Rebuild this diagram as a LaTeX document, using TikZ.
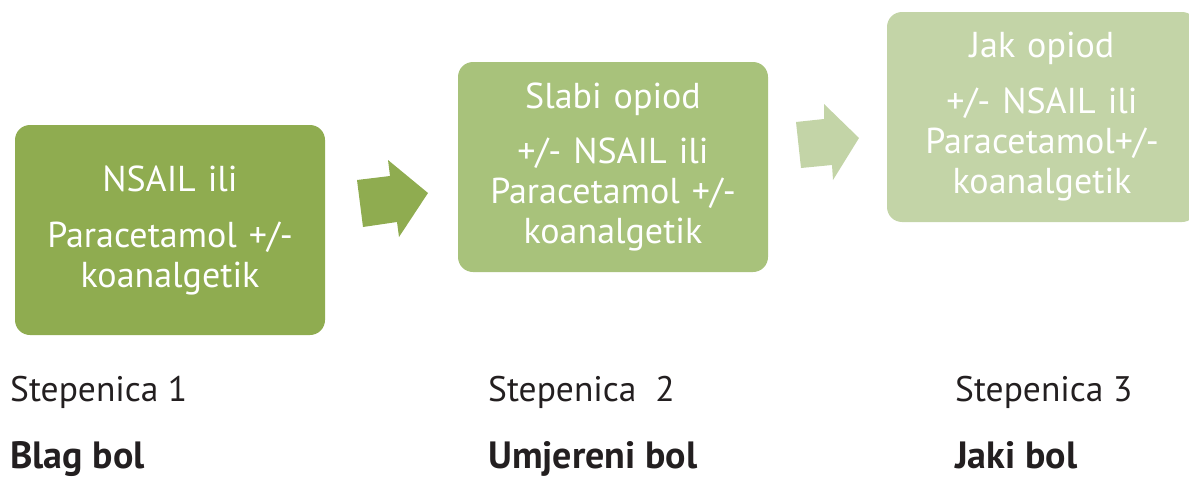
\documentclass[tikz,border=0pt]{standalone}
\usepackage{fontspec}
\setmainfont{PT Sans}
\usepackage{tikz}
\definecolor{stepA}{HTML}{8FAC50}
\definecolor{stepB}{HTML}{A8C27B}
\definecolor{stepC}{HTML}{C3D4A7}
\definecolor{labelgray}{HTML}{231F20}
\newcommand{\boxFont}{\fontsize{36}{40}\selectfont}
\newcommand{\stepFont}{\fontsize{35.5}{42}\selectfont}
\newcommand{\painFont}{\fontsize{38}{44}\selectfont\bfseries}

\begin{document}
\begin{tikzpicture}[x=1pt, y=-1pt,
	stepbox/.style={fill=#1, rounded corners=15pt, minimum width=310pt, minimum height=210pt,
		text=white, text width=300pt, align=center, inner sep=0pt, font=\boxFont},
	steplabel/.style={anchor=base west, text=labelgray, inner sep=0pt, font=\stepFont},
	painlabel/.style={anchor=base west, text=labelgray, inner sep=0pt, font=\painFont}]
		\useasboundingbox (0,0) rectangle (1189,479);
		\clip (0,0) rectangle (1189,479);
		% stepenice
		\node[stepbox=stepA] (korak1) at (170,230) {NSAIL ili\\[16pt] Paracetamol +/-\\ koanalgetik};
		\node[stepbox=stepB] (korak2) at (613,167) {Slabi opiod\\[15pt] +/- NSAIL ili\\ Paracetamol +/-\\ koanalgetik};
		\node[stepbox=stepC] (korak3) at (1042,117) {Jak opiod\\[16pt] +/- NSAIL ili\\ Paracetamol+/-\\ koanalgetik};
		% strelice
		\fill[stepA] (357,180) -- (390,176) -- (388,160) -- (428,193) -- (399,237) -- (397,222) -- (363,227) -- cycle;
		\fill[stepC] (796,122) -- (824,119) -- (824,104) -- (859,138) -- (833,180) -- (832,165) -- (801,168) -- cycle;
		% oznake
		\node[steplabel] (oznaka1) at (10,401) {Stepenica 1};
		\node[steplabel] (oznaka2) at (488,401) {Stepenica~~2};
		\node[steplabel] (oznaka3) at (955,401) {Stepenica 3};
		\node[painlabel] (bol1) at (10,468) {Blag bol};
		\node[painlabel] (bol2) at (488,468) {Umjereni bol};
		\node[painlabel] (bol3) at (955,468) {Jaki bol};
\end{tikzpicture}
\end{document}
